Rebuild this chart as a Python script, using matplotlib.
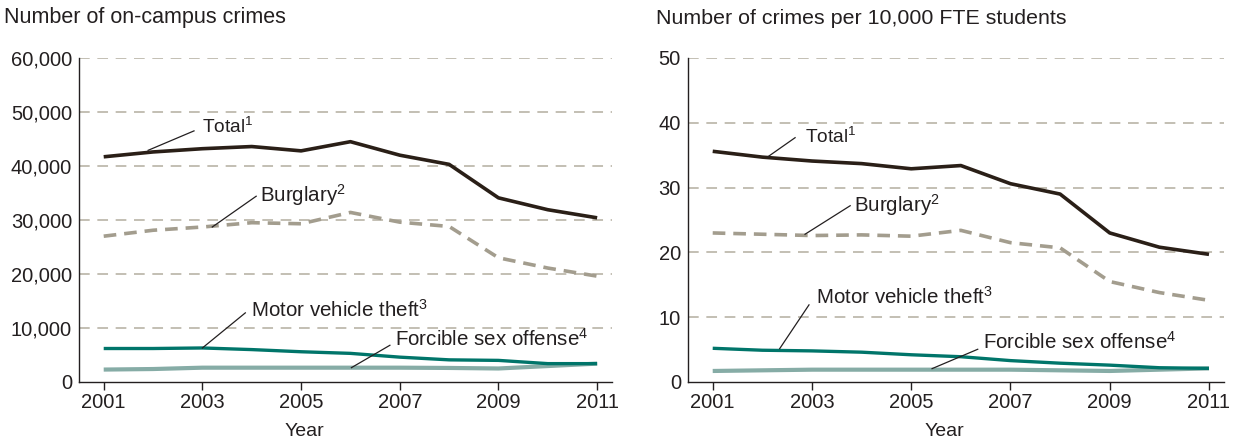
import matplotlib.pyplot as plt

plt.rcParams["font.family"] = ["Liberation Sans", "DejaVu Sans"]
plt.rcParams["mathtext.fontset"] = "custom"
plt.rcParams["mathtext.rm"] = "Liberation Sans"
plt.rcParams["mathtext.it"] = "Liberation Sans"

INK = "#231f20"
GRID = "#b3ad9f"
C_TOTAL = "#2a1f17"
C_BURG = "#a39d8e"
C_MVT = "#00756a"
C_SEX = "#86aca6"

years = list(range(2001, 2012))

# Number of on-campus crimes
total_n = [41700, 42600, 43200, 43600, 42800, 44500, 42000, 40300, 34100, 31900, 30400]
burg_n = [27000, 28100, 28700, 29500, 29300, 31400, 29600, 28800, 23000, 21100, 19600]
mvt_n = [6200, 6200, 6300, 6000, 5600, 5300, 4600, 4100, 4000, 3400, 3400]
sex_n = [2300, 2400, 2650, 2650, 2650, 2650, 2650, 2600, 2500, 2950, 3400]

# Crimes per 10,000 FTE students
total_r = [35.6, 34.7, 34.1, 33.7, 32.9, 33.4, 30.6, 29.0, 23.0, 20.8, 19.7]
burg_r = [23.0, 22.8, 22.6, 22.7, 22.5, 23.4, 21.5, 20.7, 15.5, 13.8, 12.6]
mvt_r = [5.2, 4.9, 4.8, 4.6, 4.2, 3.9, 3.3, 2.9, 2.6, 2.2, 2.1]
sex_r = [1.7, 1.8, 1.9, 1.9, 1.9, 1.9, 1.9, 1.8, 1.7, 1.9, 2.1]

fig = plt.figure(figsize=(12.35, 4.45), dpi=100)
fig.patch.set_facecolor("white")

ax1 = fig.add_axes([0.064, 0.1416, 0.4315, 0.7281])
ax2 = fig.add_axes([0.557, 0.1416, 0.434, 0.7281])


def style(ax, ymax, step, fmt):
    ax.set_xlim(2000.5, 2011.3)
    ax.set_ylim(0, ymax)
    ax.set_xticks([2001, 2003, 2005, 2007, 2009, 2011])
    ticks = list(range(0, ymax + 1, step))
    ax.set_yticks(ticks)
    ax.set_yticklabels([fmt(t) for t in ticks])
    for t in ticks[1:]:
        ax.axhline(t, color=GRID, lw=1.1, ls=(0, (7, 5)), zorder=0)
    for s in ["top", "right"]:
        ax.spines[s].set_visible(False)
    for s in ["left", "bottom"]:
        ax.spines[s].set_color(INK)
        ax.spines[s].set_linewidth(1.0)
    ax.tick_params(axis="y", length=0, pad=5, labelsize=14.5, labelcolor=INK)
    ax.tick_params(axis="x", length=6, width=1, color=INK, pad=2,
                   labelsize=14.5, labelcolor=INK)


def draw(ax, tot, bur, mvt, sex):
    ax.plot(years, sex, color=C_SEX, lw=3.0, solid_capstyle="butt", zorder=2)
    ax.plot(years, mvt, color=C_MVT, lw=2.4, solid_capstyle="butt", zorder=3)
    ax.plot(years, bur, color=C_BURG, lw=2.6, ls=(0, (3.5, 2.2)), zorder=3)
    ax.plot(years, tot, color=C_TOTAL, lw=2.6, solid_capstyle="butt", zorder=4)


def label(ax, text, xy, xytext, tx, ty, size=14.8):
    ax.plot([xy[0], xytext[0]], [xy[1], xytext[1]], color=INK, lw=0.9, zorder=5)
    ax.text(tx, ty, text, ha="left", va="center", fontsize=size, color=INK)


style(ax1, 60000, 10000, lambda v: f"{v:,}")
draw(ax1, total_n, burg_n, mvt_n, sex_n)
label(ax1, r"Total$^{1}$", (2001.9, 42900), (2002.83, 46500), 2003.0, 47200, 13.8)
label(ax1, r"Burglary$^{2}$", (2003.2, 28700), (2004.09, 34400), 2004.17, 34600)
label(ax1, r"Motor vehicle theft$^{3}$", (2003.0, 6300), (2003.87, 12800), 2003.98, 13300)
label(ax1, r"Forcible sex offense$^{4}$", (2006.02, 2650), (2006.8, 6800), 2006.9, 8000)

style(ax2, 50, 10, lambda v: f"{v}")
draw(ax2, total_r, burg_r, mvt_r, sex_r)
label(ax2, r"Total$^{1}$", (2002.12, 34.8), (2002.66, 37.7), 2002.85, 37.8, 13.8)
label(ax2, r"Burglary$^{2}$", (2002.86, 22.8), (2003.77, 27.2), 2003.85, 27.3)
label(ax2, r"Motor vehicle theft$^{3}$", (2002.35, 5.15), (2002.94, 11.9), 2003.08, 13.1)
label(ax2, r"Forcible sex offense$^{4}$", (2005.42, 2.06), (2006.34, 5.05), 2006.45, 6.2)

fig.text(4 / 1235, 1 - 18 / 445, "Number of on-campus crimes",
         ha="left", va="center", fontsize=15.5, color=INK)
fig.text(656 / 1235, 1 - 18 / 445, "Number of crimes per 10,000 FTE students",
         ha="left", va="center", fontsize=15.4, color=INK)
fig.text(304 / 1235, 1 - 432 / 445, "Year",
         ha="center", va="center", fontsize=14, color=INK)
fig.text(944 / 1235, 1 - 432 / 445, "Year",
         ha="center", va="center", fontsize=14, color=INK)

fig.savefig("out.png", dpi=100, facecolor="white")
plt.close(fig)
